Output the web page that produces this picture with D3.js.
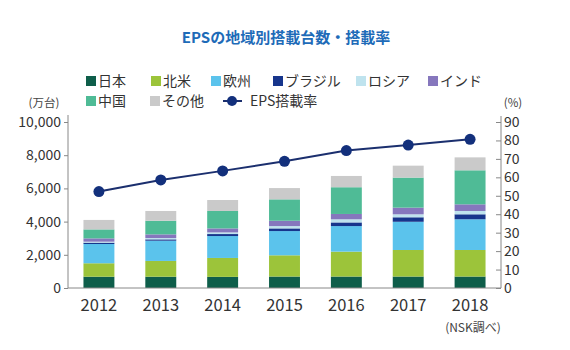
<!DOCTYPE html>
<html><head><meta charset="utf-8">
<script src="https://cdn.jsdelivr.net/npm/d3@7"></script>
<style>
body{margin:0;background:#fff;}
svg{display:block;font-family:"Noto Sans CJK JP","Noto Sans",sans-serif;}
</style></head>
<body><svg id="c" width="570" height="350"></svg>
<script>
const years = ["2012","2013","2014","2015","2016","2017","2018"];
const japan  = [680, 680, 670, 690, 690, 690, 690];
const na     = [810, 950, 1140, 1280, 1500, 1600, 1600];
const europe = [1160, 1220, 1320, 1460, 1540, 1700, 1850];
const brazil = [80, 80, 120, 160, 220, 270, 300];
const russia = [60, 80, 100, 140, 190, 180, 200];
const india  = [200, 220, 240, 320, 320, 400, 400];
const china  = [540, 820, 1050, 1290, 1610, 1810, 2050];
const others = [570, 590, 660, 680, 680, 720, 780];
const epsRate = [52.3, 58.6, 63.5, 68.7, 74.5, 77.5, 80.6];
const leftTicks = [0, 2000, 4000, 6000, 8000, 10000];
const rightTicks = [0,10,20,30,40,50,60,70,80,90];

const seriesNames = ["日本","北米","欧州","ブラジル","ロシア","インド","中国","その他"];
const seriesData = [japan, na, europe, brazil, russia, india, china, others];
const colors = ["#0e5e4a","#9cc43a","#5bc3ec","#17358c","#bfe3ee","#8677bd","#4fbb96","#cacaca"];
const lineColor = "#1b2f6e";

const svg = d3.select("#c");
const L = 68, R = 501, B = 288, T = 122;
const x = d3.scaleBand().domain(years).range([L, R]).paddingInner(0.5).paddingOuter(0.25);
const yL = d3.scaleLinear().domain([0, 10000]).range([B, T]);
const yR = d3.scaleLinear().domain([0, 90]).range([B, T]);

// title
svg.append("text").attr("x", 286).attr("y", 43).attr("text-anchor","middle")
  .attr("font-size", 15).attr("font-weight", "bold").attr("fill", "#1e6bb8")
  .text("EPSの地域別搭載台数・搭載率");

// stacked data
const table = years.map((yr, i) => {
  const o = {year: yr};
  seriesNames.forEach((n, k) => o[n] = seriesData[k][i]);
  return o;
});
const stack = d3.stack().keys(seriesNames)(table);
svg.append("g").selectAll("g").data(stack).join("g")
  .attr("fill", (d, i) => colors[i])
  .selectAll("rect").data(d => d).join("rect")
  .attr("x", d => x(d.data.year)).attr("width", x.bandwidth())
  .attr("y", d => yL(d[1])).attr("height", d => yL(d[0]) - yL(d[1]));

// axes
const axisColor = "#888";
const gl = svg.append("g").attr("transform", `translate(${L},0)`)
  .call(d3.axisLeft(yL).tickValues(leftTicks).tickFormat(d3.format(",")).tickSize(4).tickPadding(3));
const gr = svg.append("g").attr("transform", `translate(${R},0)`)
  .call(d3.axisRight(yR).tickValues(rightTicks).tickSize(-5).tickPadding(8));
const gx = svg.append("g").attr("transform", `translate(0,${B})`)
  .call(d3.axisBottom(x).tickSize(0).tickPadding(11));
[gl, gr, gx].forEach(g => {
  g.select(".domain").remove();
  g.selectAll("line").attr("stroke", axisColor);
  g.selectAll("text").attr("fill", "#333").style("font-family", '"Noto Sans CJK JP","Noto Sans",sans-serif');
});
gl.selectAll("text").attr("font-size", 14);
gr.selectAll("text").attr("font-size", 14).attr("x", 3);
gx.selectAll("text").attr("font-size", 16.5);
svg.append("line").attr("x1", L).attr("x2", L).attr("y1", 115).attr("y2", B).attr("stroke", axisColor);
svg.append("line").attr("x1", R).attr("x2", R).attr("y1", 116).attr("y2", B).attr("stroke", axisColor);
svg.append("line").attr("x1", L).attr("x2", R).attr("y1", B).attr("y2", B).attr("stroke", axisColor);

// line
const cx = d => x(d) + x.bandwidth() / 2;
svg.append("path").datum(epsRate)
  .attr("fill", "none").attr("stroke", lineColor).attr("stroke-width", 2)
  .attr("d", d3.line().x((d, i) => cx(years[i])).y(d => yR(d)));
svg.append("g").selectAll("circle").data(epsRate).join("circle")
  .attr("cx", (d, i) => cx(years[i])).attr("cy", d => yR(d)).attr("r", 5.5)
  .attr("fill", "#13307c");

// unit labels
svg.append("text").attr("x", 44).attr("y", 107).attr("text-anchor","middle")
  .attr("font-size", 11.5).attr("fill", "#444").text("(万台)");
svg.append("text").attr("x", 513).attr("y", 107).attr("text-anchor","middle")
  .attr("font-size", 11.5).attr("fill", "#444").text("(%)");
svg.append("text").attr("x", 473).attr("y", 332).attr("text-anchor","middle")
  .attr("font-size", 12).attr("fill", "#444").text("(NSK調べ)");

// legend
const legendPos = [[86,81],[151,81],[211,81],[273,81],[356,81],[428,81],[86,101],[150,101]];
const lg = svg.append("g");
seriesNames.forEach((n, i) => {
  const [lx, ly] = legendPos[i];
  lg.append("rect").attr("x", lx).attr("y", ly - 5).attr("width", 10).attr("height", 10).attr("fill", colors[i]);
  lg.append("text").attr("x", lx + 12).attr("y", ly + 5).attr("font-size", 14).attr("fill", "#333").text(n);
});
lg.append("line").attr("x1", 223).attr("x2", 242).attr("y1", 101).attr("y2", 101).attr("stroke", lineColor).attr("stroke-width", 2);
lg.append("circle").attr("cx", 232).attr("cy", 101).attr("r", 5).attr("fill", "#13307c");
lg.append("text").attr("x", 250).attr("y", 106).attr("font-size", 14).attr("fill", "#333").text("EPS搭載率");
</script></body></html>
